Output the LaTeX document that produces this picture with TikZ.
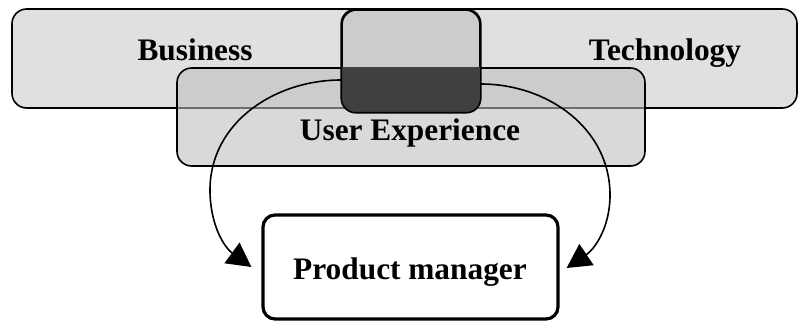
\documentclass[tikz,border=0pt]{standalone}
\usepackage{fontspec}
\setmainfont{Liberation Serif}
\usetikzlibrary{arrows.meta,calc}

\definecolor{lightfill}{gray}{0.88}
\definecolor{midfill}{gray}{0.8}
\definecolor{uxfill}{gray}{0.745}
\definecolor{corefill}{gray}{0.25}

\begin{document}
\begin{tikzpicture}[x=0.75pt, y=0.75pt, >={Triangle[length=18pt,width=19pt]},
    box/.style={rectangle, rounded corners=11pt, draw, line width=1.2pt, inner sep=0pt},
    word/.style={anchor=base, font=\fontsize{23.5}{28}\selectfont\bfseries},
    flow/.style={line width=1.2pt, ->}]
    \useasboundingbox (0,0) rectangle (798,321);
    % the three overlapping areas
    \node[box, fill=lightfill, minimum width=588.75pt, minimum height=74.25pt] (biz) at (404.5,262.5) {};
    \node[box, fill=midfill, minimum width=103.5pt, minimum height=76.5pt] (mid) at (411,260) {};
    \node[box, fill=uxfill, fill opacity=0.58, minimum width=351pt, minimum height=73.5pt] (ux) at (411,204) {};
    % dark core where they all meet
    \begin{scope}
      \clip (ux.north west) rectangle (ux.south east);
      \fill[corefill, rounded corners=11pt] (mid.north west) rectangle (mid.south east);
    \end{scope}
    \draw[line width=1.2pt, rounded corners=11pt] (mid.north west) rectangle (mid.south east);
    \node[box, line width=2.4pt, rounded corners=9pt, minimum width=221.25pt, minimum height=78pt] (pm) at (410.5,54) {};

    \node[word] (biztext) at (195,260) {Business};
    \node[word] (techtext) at (665,260) {Technology};
    \node[word] (uxtext) at (410,180) {User Experience};
    \node[word] (pmtext) at (410,41) {Product manager};

    \draw[flow] ($(mid.west)+(0,-19)$) to[out=180,in=90] (210,131)
                to[out=-90,in=144] ($(pm.west)+(-10,0)$);
    \draw[flow] ($(mid.east)+(0,-23)$) to[out=0,in=90] (610,126)
                to[out=-90,in=34] ($(pm.east)+(7,-1)$);
\end{tikzpicture}
\end{document}
